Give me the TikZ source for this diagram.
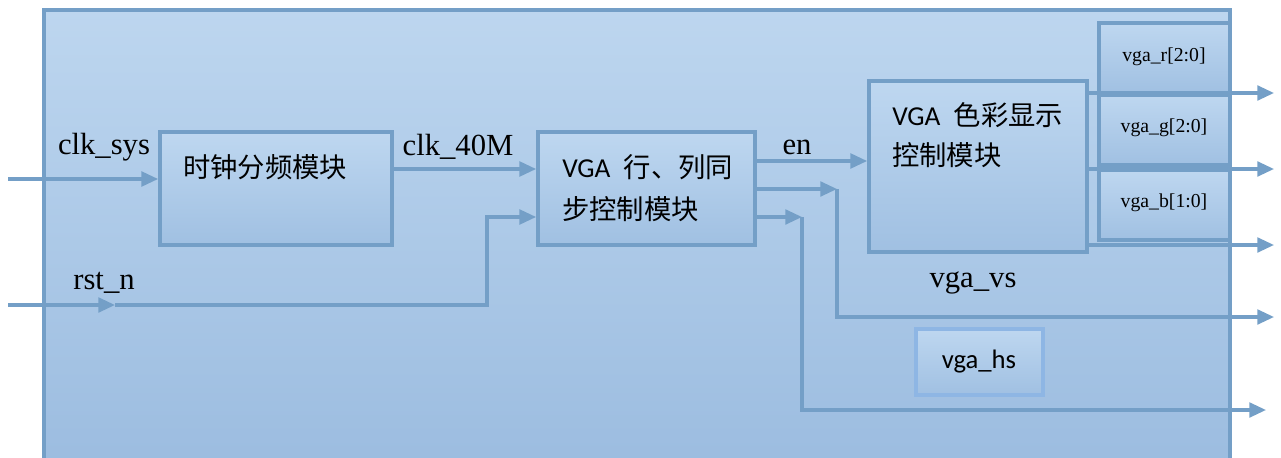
\documentclass[tikz,border=0pt]{standalone}
\usepackage{fontspec}
\setmainfont{Liberation Serif}
\newfontfamily\cjkf{Noto Sans CJK SC}
\newfontfamily\carl{Carlito}
\usetikzlibrary{arrows.meta,fit}
\definecolor{edge}{RGB}{116,159,199}
\definecolor{bgtop}{RGB}{189,214,239}
\definecolor{bgbot}{RGB}{154,187,223}
\definecolor{boxtop}{RGB}{190,215,240}
\definecolor{boxbot}{RGB}{160,192,226}
\definecolor{hsedge}{RGB}{142,182,228}
\tikzset{
  outerbox/.style={draw=edge, line width=2.6pt, top color=bgtop, bottom color=bgbot, inner sep=0pt},
  blockbox/.style={draw=edge, line width=2.8pt, top color=boxtop, bottom color=boxbot, inner sep=0pt},
  hsbox/.style={draw=hsedge, line width=2.8pt, top color=boxtop, bottom color=boxbot, inner sep=0pt},
  arr/.style={draw=edge, line width=2.4pt, -{Triangle[length=12.5pt,width=11pt]}},
  sig/.style={font=\fontsize{23}{23}\selectfont, inner sep=0pt},
  small/.style={font=\fontsize{14.8}{15}\selectfont, inner sep=0pt},
  cn/.style={font=\fontsize{20.5}{21}\selectfont, inner sep=0pt, anchor=west},
}
\begin{document}
\begin{tikzpicture}[x=0.75pt,y=-0.75pt]
\useasboundingbox (0,0) rectangle (1281,457);
\clip (0,0) rectangle (1281,457);
% frame
\node[outerbox, fit={(44,10)(1230,490)}] (frame) {};
% blocks
\node[blockbox, fit={(160,132)(392,245)}] (b1) {};
\node[blockbox, fit={(538,132)(755,245)}] (b2) {};
\node[blockbox, fit={(869,81)(1087,252)}] (b3) {};
\node[blockbox, fit={(1099,23)(1230,93)}] (br) {};
\node[blockbox, fit={(1099,95)(1230,165)}] (bg) {};
\node[blockbox, fit={(1099,170)(1230,240)}] (bb) {};
\node[hsbox, fit={(916,329)(1043,395)}] (bhs) {};
% block texts
\node[cn] (t1) at (183,167) {\cjkf 时钟分频模块};
\node[cn] (t2a) at (562,167) {{\carl VGA}\hspace{10pt}{\cjkf 行、列同}};
\node[cn] (t2b) at (562,209) {\cjkf 步控制模块};
\node[cn] (t3a) at (892,115) {{\carl VGA}\hspace{10pt}{\cjkf 色彩显示}};
\node[cn] (t3b) at (892,155) {\cjkf 控制模块};
\node[small] (tr) at (1164,57) {vga\_r[2:0]};
\node[small] (tg) at (1164,128) {vga\_g[2:0]};
\node[small] (tb) at (1164,203) {vga\_b[1:0]};
\node[font=\carl\fontsize{20}{20}\selectfont, inner sep=0pt] (ths) at (979,362) {vga\_hs};
% signal labels
\node[sig] (lclk) at (104,147) {clk\_sys};
\node[sig] (lrst) at (104,283) {rst\_n};
\node[sig] (l40) at (458,147) {clk\_40M};
\node[sig] (len) at (797,147) {en};
\node[sig] (lvs) at (973,283) {vga\_vs};
% connectors
\coordinate (clkin) at (8,179);
\draw[arr] (clkin) -- (clkin -| b1.west);
\draw[arr] (b1.east |- 0,169) -- (b2.west |- 0,169);
\coordinate (rstin) at (8,305);
\coordinate (rstmid) at (115,305);
\coordinate (rstbend) at (487,305);
\draw[arr] (rstin) -- (rstmid);
\draw[arr] (rstmid) -- (rstbend) |- (b2.west |- 0,217);
\draw[arr] (b2.east |- 0,161) -- (b3.west |- 0,161);
\coordinate (vsturn) at (837,189);
\coordinate (vsout) at (1274,317);
\draw[arr] (b2.east |- 0,189) -- (vsturn);
\draw[arr] (vsturn) |- (vsout);
\coordinate (hsturn) at (802,217);
\coordinate (hsout) at (1266,410);
\draw[arr] (b2.east |- 0,217) -- (hsturn);
\draw[arr] (hsturn) |- (hsout);
\coordinate (rout) at (1274,93);
\coordinate (gout) at (1274,169);
\coordinate (bout) at (1274,245);
\draw[arr] (b3.east |- rout) -- (rout);
\draw[arr] (b3.east |- gout) -- (gout);
\draw[arr] (b3.east |- bout) -- (bout);
\end{tikzpicture}
\end{document}
